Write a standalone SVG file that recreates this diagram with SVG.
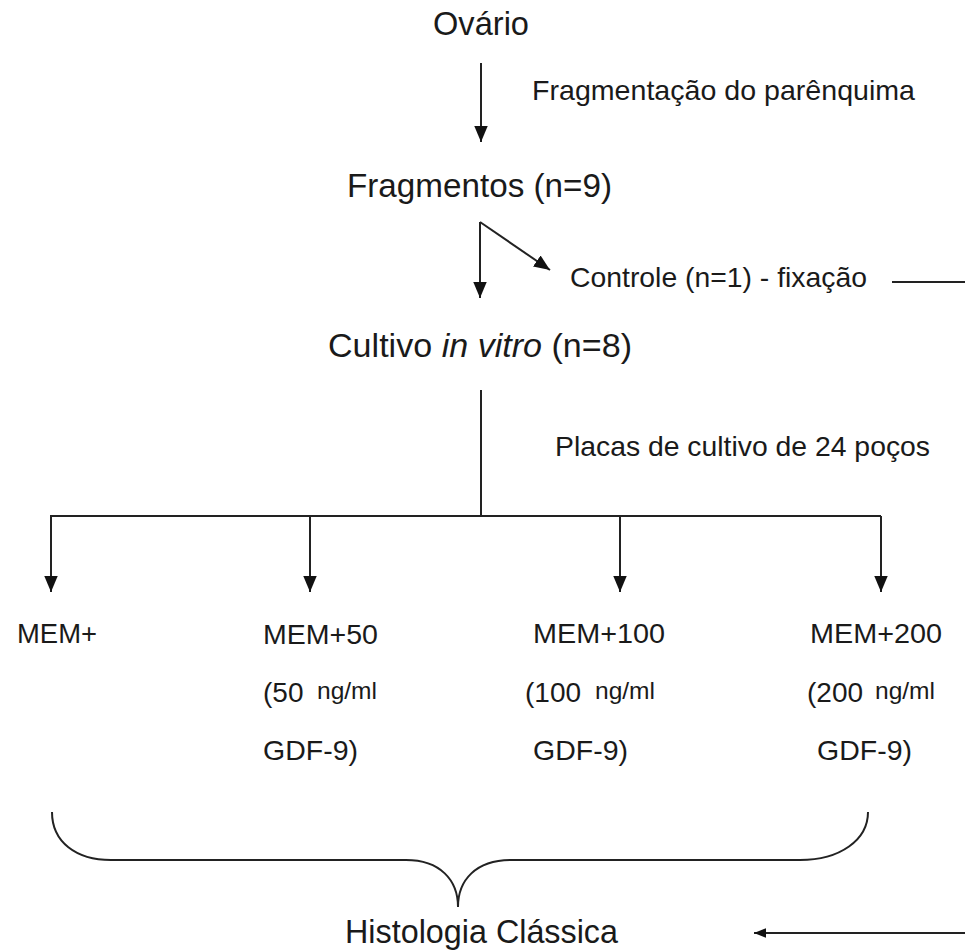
<svg xmlns="http://www.w3.org/2000/svg" width="965" height="952" viewBox="0 0 965 952">
<defs>
<style>
.t{font-family:"Liberation Sans",Arial,sans-serif;fill:#1a1a1a;}
.big{font-size:33px;}
.med{font-size:28px;}
.sm{font-size:24px;}
.ln{stroke:#222;stroke-width:2;fill:none;}
</style>
<marker id="ah" viewBox="0 0 10 10" refX="10" refY="5" markerWidth="12" markerHeight="12" markerUnits="userSpaceOnUse" orient="auto">
<path d="M0,1 L10,5 L0,9 z" fill="#111"/>
</marker>
<marker id="ah2" viewBox="0 0 10 10" refX="10" refY="5" markerWidth="16" markerHeight="16" markerUnits="userSpaceOnUse" orient="auto">
<path d="M0,0.8 L10,5 L0,9.2 z" fill="#111"/>
</marker>
</defs>
<rect width="965" height="952" fill="#fff"/>
<g id="connectors">
<line class="ln" x1="481" y1="63" x2="481" y2="142" marker-end="url(#ah2)"/>
<line class="ln" x1="480" y1="222" x2="480" y2="298" marker-end="url(#ah2)"/>
<line class="ln" x1="480" y1="222" x2="550" y2="270" marker-end="url(#ah2)"/>
<line class="ln" x1="892" y1="282" x2="965" y2="282"/>
<line class="ln" x1="481" y1="390" x2="481" y2="516"/>
<line class="ln" x1="50" y1="516" x2="881" y2="516" stroke-width="3"/>
<line class="ln" x1="51" y1="516" x2="51" y2="592" marker-end="url(#ah2)"/>
<line class="ln" x1="310" y1="516" x2="310" y2="592" marker-end="url(#ah2)"/>
<line class="ln" x1="620" y1="516" x2="620" y2="592" marker-end="url(#ah2)"/>
<line class="ln" x1="881" y1="516" x2="881" y2="592" marker-end="url(#ah2)"/>
<path class="ln" d="M52 812 C52 842 76 860 111 860 L406 860 C440 860 458 880 458 907 C458 880 476 860 511 860 L800 860 C840 860 868 840 868 812"/>
<line class="ln" x1="965" y1="933" x2="754" y2="933" marker-end="url(#ah)"/>
</g>
<g id="n-ovario"><text class="t big" x="433" y="35" textLength="96" lengthAdjust="spacingAndGlyphs" font-size="32">Ovário</text></g>
<g id="lbl-frag"><text class="t med" x="532" y="100" textLength="383" lengthAdjust="spacingAndGlyphs">Fragmentação do parênquima</text></g>
<g id="n-fragmentos"><text class="t big" x="347" y="197" textLength="265" lengthAdjust="spacingAndGlyphs">Fragmentos (n=9)</text></g>
<g id="n-controle"><text class="t med" x="570" y="287" textLength="297" lengthAdjust="spacingAndGlyphs">Controle (n=1) - fixação</text></g>
<g id="n-cultivo"><text class="t big" x="328" y="357" textLength="304" lengthAdjust="spacingAndGlyphs">Cultivo <tspan font-style="italic">in vitro</tspan> (n=8)</text></g>
<g id="lbl-placas"><text class="t med" x="555" y="456" textLength="375" lengthAdjust="spacingAndGlyphs">Placas de cultivo de 24 poços</text></g>
<g id="n-mem"><text class="t med" x="17" y="643" textLength="80" lengthAdjust="spacingAndGlyphs">MEM+</text></g>
<g id="n-mem50">
<text class="t med" x="263" y="644" textLength="115" lengthAdjust="spacingAndGlyphs">MEM+50</text>
<text class="t med" x="263" y="702">(50</text>
<text class="t sm" x="317" y="699" textLength="60" lengthAdjust="spacingAndGlyphs">ng/ml</text>
<text class="t med" x="263" y="760" textLength="95" lengthAdjust="spacingAndGlyphs">GDF-9)</text>
</g>
<g id="n-mem100">
<text class="t med" x="533" y="643" textLength="132" lengthAdjust="spacingAndGlyphs">MEM+100</text>
<text class="t med" x="525" y="702">(100</text>
<text class="t sm" x="595" y="699" textLength="60" lengthAdjust="spacingAndGlyphs">ng/ml</text>
<text class="t med" x="533" y="760" textLength="95" lengthAdjust="spacingAndGlyphs">GDF-9)</text>
</g>
<g id="n-mem200">
<text class="t med" x="810" y="643" textLength="132" lengthAdjust="spacingAndGlyphs">MEM+200</text>
<text class="t med" x="807" y="702">(200</text>
<text class="t sm" x="875" y="699" textLength="60" lengthAdjust="spacingAndGlyphs">ng/ml</text>
<text class="t med" x="817" y="760" textLength="95" lengthAdjust="spacingAndGlyphs">GDF-9)</text>
</g>
<g id="n-histologia"><text class="t big" x="345" y="943" textLength="273" lengthAdjust="spacingAndGlyphs" font-size="31">Histologia Clássica</text></g>
</svg>
